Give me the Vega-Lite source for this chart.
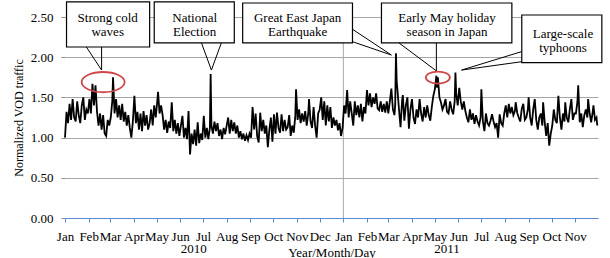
{
  "$schema": "https://vega.github.io/schema/vega-lite/v6.json",
  "width": 533,
  "height": 201,
  "autosize": "none",
  "padding": {"left": 65, "top": 17, "right": 12, "bottom": 40},
  "background": "white",
  "config": {"view": {"stroke": null}, "font": "Liberation Serif"},
  "datasets": {
    "vod": [
      {"d":"2010-01-01","v":1.00},{"d":"2010-01-03","v":1.32},{"d":"2010-01-05","v":1.18},{"d":"2010-01-07","v":1.42},{"d":"2010-01-09","v":1.22},{"d":"2010-01-11","v":1.48},{"d":"2010-01-13","v":1.25},{"d":"2010-01-15","v":1.20},{"d":"2010-01-17","v":1.45},{"d":"2010-01-19","v":1.28},{"d":"2010-01-21","v":1.18},{"d":"2010-01-23","v":1.40},{"d":"2010-01-25","v":1.50},{"d":"2010-01-27","v":1.22},{"d":"2010-01-29","v":1.35},{"d":"2010-01-31","v":1.30},
      {"d":"2010-02-02","v":1.48},{"d":"2010-02-04","v":1.30},{"d":"2010-02-06","v":1.67},{"d":"2010-02-08","v":1.40},{"d":"2010-02-10","v":1.65},{"d":"2010-02-12","v":1.32},{"d":"2010-02-14","v":1.15},{"d":"2010-02-16","v":1.30},{"d":"2010-02-18","v":1.10},{"d":"2010-02-20","v":1.28},{"d":"2010-02-22","v":1.05},{"d":"2010-02-24","v":1.02},{"d":"2010-02-26","v":1.22},{"d":"2010-02-28","v":1.15},
      {"d":"2010-03-02","v":1.25},{"d":"2010-03-04","v":1.45},{"d":"2010-03-05","v":1.75},{"d":"2010-03-07","v":1.30},{"d":"2010-03-09","v":1.48},{"d":"2010-03-11","v":1.25},{"d":"2010-03-13","v":1.40},{"d":"2010-03-15","v":1.22},{"d":"2010-03-17","v":1.42},{"d":"2010-03-19","v":1.20},{"d":"2010-03-21","v":1.32},{"d":"2010-03-23","v":1.15},{"d":"2010-03-25","v":1.28},{"d":"2010-03-27","v":1.12},{"d":"2010-03-29","v":1.00},{"d":"2010-03-31","v":1.20},
      {"d":"2010-04-02","v":1.52},{"d":"2010-04-04","v":1.18},{"d":"2010-04-06","v":1.32},{"d":"2010-04-08","v":1.10},{"d":"2010-04-10","v":1.30},{"d":"2010-04-12","v":1.08},{"d":"2010-04-14","v":1.33},{"d":"2010-04-16","v":1.15},{"d":"2010-04-18","v":1.28},{"d":"2010-04-20","v":1.10},{"d":"2010-04-22","v":1.18},{"d":"2010-04-24","v":1.35},{"d":"2010-04-26","v":1.15},{"d":"2010-04-28","v":1.40},{"d":"2010-04-30","v":1.25},
      {"d":"2010-05-02","v":1.45},{"d":"2010-05-03","v":1.57},{"d":"2010-05-05","v":1.30},{"d":"2010-05-07","v":1.40},{"d":"2010-05-09","v":1.28},{"d":"2010-05-11","v":1.10},{"d":"2010-05-13","v":1.22},{"d":"2010-05-15","v":1.06},{"d":"2010-05-17","v":1.20},{"d":"2010-05-19","v":1.12},{"d":"2010-05-21","v":1.44},{"d":"2010-05-23","v":1.08},{"d":"2010-05-25","v":1.22},{"d":"2010-05-27","v":1.05},{"d":"2010-05-29","v":1.18},{"d":"2010-05-31","v":1.02},
      {"d":"2010-06-02","v":1.15},{"d":"2010-06-04","v":1.27},{"d":"2010-06-06","v":1.00},{"d":"2010-06-08","v":1.12},{"d":"2010-06-10","v":0.98},{"d":"2010-06-12","v":1.33},{"d":"2010-06-14","v":0.79},{"d":"2010-06-16","v":1.05},{"d":"2010-06-18","v":0.92},{"d":"2010-06-20","v":1.10},{"d":"2010-06-22","v":0.90},{"d":"2010-06-24","v":1.19},{"d":"2010-06-26","v":0.93},{"d":"2010-06-28","v":1.05},{"d":"2010-06-30","v":0.97},
      {"d":"2010-07-02","v":1.27},{"d":"2010-07-04","v":1.00},{"d":"2010-07-06","v":1.12},{"d":"2010-07-08","v":0.98},{"d":"2010-07-10","v":1.12},{"d":"2010-07-11","v":1.79},{"d":"2010-07-12","v":1.15},{"d":"2010-07-14","v":1.05},{"d":"2010-07-16","v":1.20},{"d":"2010-07-18","v":1.08},{"d":"2010-07-20","v":1.18},{"d":"2010-07-22","v":1.02},{"d":"2010-07-24","v":1.10},{"d":"2010-07-26","v":0.98},{"d":"2010-07-28","v":1.12},{"d":"2010-07-30","v":1.04},
      {"d":"2010-08-01","v":1.15},{"d":"2010-08-03","v":1.25},{"d":"2010-08-05","v":1.05},{"d":"2010-08-07","v":1.22},{"d":"2010-08-09","v":1.08},{"d":"2010-08-11","v":1.19},{"d":"2010-08-13","v":1.05},{"d":"2010-08-15","v":1.15},{"d":"2010-08-17","v":1.00},{"d":"2010-08-19","v":1.08},{"d":"2010-08-21","v":0.98},{"d":"2010-08-23","v":1.05},{"d":"2010-08-25","v":0.96},{"d":"2010-08-27","v":1.03},{"d":"2010-08-29","v":0.97},{"d":"2010-08-31","v":1.05},
      {"d":"2010-09-02","v":1.00},{"d":"2010-09-04","v":1.38},{"d":"2010-09-06","v":1.10},{"d":"2010-09-08","v":1.30},{"d":"2010-09-10","v":1.02},{"d":"2010-09-12","v":0.94},{"d":"2010-09-14","v":1.31},{"d":"2010-09-16","v":1.08},{"d":"2010-09-18","v":1.22},{"d":"2010-09-20","v":1.05},{"d":"2010-09-22","v":1.15},{"d":"2010-09-24","v":0.88},{"d":"2010-09-26","v":1.10},{"d":"2010-09-28","v":1.25},{"d":"2010-09-30","v":0.95},
      {"d":"2010-10-02","v":1.29},{"d":"2010-10-04","v":1.05},{"d":"2010-10-06","v":1.31},{"d":"2010-10-08","v":1.12},{"d":"2010-10-10","v":1.06},{"d":"2010-10-12","v":1.29},{"d":"2010-10-14","v":1.08},{"d":"2010-10-16","v":1.22},{"d":"2010-10-18","v":1.10},{"d":"2010-10-20","v":1.13},{"d":"2010-10-22","v":1.28},{"d":"2010-10-24","v":1.02},{"d":"2010-10-26","v":1.15},{"d":"2010-10-28","v":1.06},{"d":"2010-10-30","v":1.27},{"d":"2010-10-31","v":1.60},
      {"d":"2010-11-02","v":1.22},{"d":"2010-11-04","v":1.35},{"d":"2010-11-06","v":1.18},{"d":"2010-11-08","v":1.30},{"d":"2010-11-10","v":1.20},{"d":"2010-11-12","v":1.33},{"d":"2010-11-14","v":1.15},{"d":"2010-11-16","v":1.30},{"d":"2010-11-17","v":1.48},{"d":"2010-11-19","v":1.20},{"d":"2010-11-21","v":1.12},{"d":"2010-11-23","v":1.38},{"d":"2010-11-25","v":1.15},{"d":"2010-11-27","v":1.00},{"d":"2010-11-29","v":1.30},
      {"d":"2010-12-01","v":1.35},{"d":"2010-12-03","v":1.50},{"d":"2010-12-05","v":1.22},{"d":"2010-12-07","v":1.45},{"d":"2010-12-09","v":1.15},{"d":"2010-12-11","v":1.40},{"d":"2010-12-13","v":1.20},{"d":"2010-12-15","v":1.38},{"d":"2010-12-17","v":1.12},{"d":"2010-12-19","v":1.25},{"d":"2010-12-21","v":1.15},{"d":"2010-12-23","v":1.22},{"d":"2010-12-25","v":1.09},{"d":"2010-12-27","v":1.18},{"d":"2010-12-29","v":1.02},{"d":"2010-12-31","v":1.12},
      {"d":"2011-01-02","v":1.40},{"d":"2011-01-04","v":1.30},{"d":"2011-01-06","v":1.59},{"d":"2011-01-08","v":1.25},{"d":"2011-01-10","v":1.45},{"d":"2011-01-12","v":1.30},{"d":"2011-01-14","v":1.15},{"d":"2011-01-16","v":1.45},{"d":"2011-01-18","v":1.28},{"d":"2011-01-20","v":1.40},{"d":"2011-01-22","v":1.25},{"d":"2011-01-24","v":1.42},{"d":"2011-01-26","v":1.20},{"d":"2011-01-28","v":1.38},{"d":"2011-01-30","v":1.30},
      {"d":"2011-02-01","v":1.59},{"d":"2011-02-03","v":1.40},{"d":"2011-02-05","v":1.55},{"d":"2011-02-07","v":1.38},{"d":"2011-02-09","v":1.50},{"d":"2011-02-11","v":1.42},{"d":"2011-02-13","v":1.55},{"d":"2011-02-15","v":1.36},{"d":"2011-02-17","v":1.34},{"d":"2011-02-19","v":1.45},{"d":"2011-02-21","v":1.32},{"d":"2011-02-23","v":1.42},{"d":"2011-02-25","v":1.31},{"d":"2011-02-27","v":1.45},
      {"d":"2011-03-01","v":1.30},{"d":"2011-03-03","v":1.45},{"d":"2011-03-05","v":1.61},{"d":"2011-03-07","v":1.35},{"d":"2011-03-09","v":1.28},{"d":"2011-03-10","v":1.40},{"d":"2011-03-11","v":2.05},{"d":"2011-03-12","v":1.70},{"d":"2011-03-13","v":1.59},{"d":"2011-03-15","v":1.35},{"d":"2011-03-17","v":1.13},{"d":"2011-03-19","v":1.45},{"d":"2011-03-20","v":1.53},{"d":"2011-03-22","v":1.21},{"d":"2011-03-24","v":1.40},{"d":"2011-03-26","v":1.50},{"d":"2011-03-28","v":1.11},{"d":"2011-03-30","v":1.35},
      {"d":"2011-04-01","v":1.48},{"d":"2011-04-03","v":1.25},{"d":"2011-04-05","v":1.17},{"d":"2011-04-07","v":1.35},{"d":"2011-04-09","v":1.25},{"d":"2011-04-11","v":1.48},{"d":"2011-04-13","v":1.30},{"d":"2011-04-15","v":1.20},{"d":"2011-04-17","v":1.38},{"d":"2011-04-19","v":1.25},{"d":"2011-04-21","v":1.40},{"d":"2011-04-23","v":1.28},{"d":"2011-04-25","v":1.21},{"d":"2011-04-27","v":1.38},{"d":"2011-04-29","v":1.52},
      {"d":"2011-05-01","v":1.60},{"d":"2011-05-03","v":1.77},{"d":"2011-05-04","v":1.62},{"d":"2011-05-05","v":1.75},{"d":"2011-05-07","v":1.50},{"d":"2011-05-09","v":1.44},{"d":"2011-05-11","v":1.35},{"d":"2011-05-13","v":1.40},{"d":"2011-05-15","v":1.48},{"d":"2011-05-17","v":1.32},{"d":"2011-05-19","v":1.30},{"d":"2011-05-21","v":1.45},{"d":"2011-05-23","v":1.35},{"d":"2011-05-25","v":1.29},{"d":"2011-05-27","v":1.45},{"d":"2011-05-28","v":1.81},{"d":"2011-05-29","v":1.55},{"d":"2011-05-31","v":1.40},
      {"d":"2011-06-02","v":1.62},{"d":"2011-06-04","v":1.45},{"d":"2011-06-06","v":1.35},{"d":"2011-06-08","v":1.45},{"d":"2011-06-10","v":1.33},{"d":"2011-06-12","v":1.25},{"d":"2011-06-14","v":1.19},{"d":"2011-06-16","v":1.35},{"d":"2011-06-18","v":1.22},{"d":"2011-06-20","v":1.30},{"d":"2011-06-22","v":1.17},{"d":"2011-06-24","v":1.28},{"d":"2011-06-26","v":1.20},{"d":"2011-06-28","v":1.15},{"d":"2011-06-30","v":1.25},
      {"d":"2011-07-01","v":1.60},{"d":"2011-07-03","v":1.20},{"d":"2011-07-05","v":1.08},{"d":"2011-07-07","v":1.30},{"d":"2011-07-09","v":1.18},{"d":"2011-07-11","v":1.15},{"d":"2011-07-13","v":1.21},{"d":"2011-07-15","v":1.29},{"d":"2011-07-17","v":1.20},{"d":"2011-07-19","v":1.13},{"d":"2011-07-21","v":1.18},{"d":"2011-07-23","v":1.00},{"d":"2011-07-25","v":1.29},{"d":"2011-07-27","v":1.18},{"d":"2011-07-29","v":1.15},{"d":"2011-07-31","v":1.30},
      {"d":"2011-08-02","v":1.40},{"d":"2011-08-04","v":1.25},{"d":"2011-08-06","v":1.42},{"d":"2011-08-08","v":1.30},{"d":"2011-08-10","v":1.38},{"d":"2011-08-12","v":1.28},{"d":"2011-08-14","v":1.33},{"d":"2011-08-15","v":1.44},{"d":"2011-08-17","v":1.31},{"d":"2011-08-19","v":1.25},{"d":"2011-08-21","v":1.20},{"d":"2011-08-23","v":1.36},{"d":"2011-08-25","v":1.42},{"d":"2011-08-27","v":1.22},{"d":"2011-08-29","v":1.25},{"d":"2011-08-31","v":1.35},
      {"d":"2011-09-01","v":1.50},{"d":"2011-09-03","v":1.25},{"d":"2011-09-05","v":1.15},{"d":"2011-09-07","v":1.35},{"d":"2011-09-09","v":1.48},{"d":"2011-09-11","v":1.22},{"d":"2011-09-13","v":1.10},{"d":"2011-09-15","v":1.25},{"d":"2011-09-17","v":1.30},{"d":"2011-09-19","v":1.15},{"d":"2011-09-20","v":1.44},{"d":"2011-09-22","v":1.20},{"d":"2011-09-24","v":1.02},{"d":"2011-09-26","v":1.18},{"d":"2011-09-28","v":0.90},{"d":"2011-09-30","v":1.05},
      {"d":"2011-10-02","v":1.15},{"d":"2011-10-04","v":1.35},{"d":"2011-10-06","v":1.22},{"d":"2011-10-08","v":1.18},{"d":"2011-10-10","v":1.52},{"d":"2011-10-12","v":1.25},{"d":"2011-10-14","v":1.10},{"d":"2011-10-16","v":1.30},{"d":"2011-10-18","v":1.20},{"d":"2011-10-19","v":1.44},{"d":"2011-10-21","v":1.25},{"d":"2011-10-23","v":1.19},{"d":"2011-10-25","v":1.35},{"d":"2011-10-27","v":1.48},{"d":"2011-10-29","v":1.22},{"d":"2011-10-31","v":1.30},
      {"d":"2011-11-02","v":1.30},{"d":"2011-11-04","v":1.45},{"d":"2011-11-05","v":1.65},{"d":"2011-11-07","v":1.19},{"d":"2011-11-09","v":1.30},{"d":"2011-11-11","v":1.13},{"d":"2011-11-13","v":1.28},{"d":"2011-11-15","v":1.35},{"d":"2011-11-17","v":1.25},{"d":"2011-11-18","v":1.48},{"d":"2011-11-20","v":1.30},{"d":"2011-11-22","v":1.19},{"d":"2011-11-24","v":1.32},{"d":"2011-11-25","v":1.40},{"d":"2011-11-27","v":1.22},{"d":"2011-11-29","v":1.25},{"d":"2011-11-30","v":1.15}
    ],
    "jan": [{"d":"2011-01-01","v":0,"v2":2.5}],
    "boxes": [
      {"d":"2010-01-03","d2":"2010-04-22","v":2.687,"v2":2.127},
      {"d":"2010-04-28","d2":"2010-08-11","v":2.687,"v2":2.177},
      {"d":"2010-08-22","d2":"2011-01-13","v":2.674,"v2":2.177},
      {"d":"2011-02-20","d2":"2011-08-10","v":2.674,"v2":2.177},
      {"d":"2011-08-23","d2":"2011-12-06","v":2.525,"v2":1.932}
    ],
    "labels": [
      {"t":"Strong cold\nwaves","d":"2010-02-26","v":2.49},
      {"t":"National\nElection","d":"2010-06-20","v":2.49},
      {"t":"Great East Japan\nEarthquake","d":"2010-11-02","v":2.49},
      {"t":"Early May holiday\nseason in Japan","d":"2011-05-17","v":2.49},
      {"t":"Large-scale\ntyphoons","d":"2011-10-16","v":2.29}
    ],
    "years": [
      {"t":"2010","d":"2010-06-19","v":-0.44},
      {"t":"2011","d":"2011-05-17","v":-0.44}
    ],
    "ptr": [
      {"id":"a","o":1,"d":"2010-01-29","v":2.127},{"id":"a","o":2,"d":"2010-02-18","v":1.84},{"id":"a","o":3,"d":"2010-02-18","v":2.127},
      {"id":"b","o":1,"d":"2010-06-29","v":2.177},{"id":"b","o":2,"d":"2010-07-12","v":1.84},{"id":"b","o":3,"d":"2010-07-25","v":2.177},
      {"id":"c","o":1,"d":"2011-01-11","v":2.36},{"id":"c","o":2,"d":"2011-03-05","v":2.027},{"id":"c","o":3,"d":"2011-01-13","v":2.193},
      {"id":"e","o":1,"d":"2011-03-15","v":2.177},{"id":"e","o":2,"d":"2011-05-03","v":1.83},{"id":"e","o":3,"d":"2011-05-03","v":2.177},
      {"id":"f","o":1,"d":"2011-08-23","v":2.07},{"id":"f","o":2,"d":"2011-06-05","v":1.84},{"id":"f","o":3,"d":"2011-08-23","v":1.944}
    ],
    "rings": [
      {"name":"cold","d":"2010-02-20","v":1.69},
      {"name":"may","d":"2011-05-05","v":1.747}
    ]
  },
  "encoding": {
    "x": {
      "field": "d", "type": "temporal",
      "scale": {"type": "utc", "nice": false, "domain": [{"year": 2010, "month": 1, "date": 1, "utc": true}, {"year": 2011, "month": 11, "date": 30, "hours": 23, "utc": true}]},
      "axis": {
        "title": "Year/Month/Day", "titleFont": "Liberation Serif", "titleFontSize": 13, "titleFontWeight": "normal", "titleColor": "black",
        "titleY": 38, "titleBaseline": "alphabetic",
        "tickCount": "month",
        "labelExpr": "utcFormat(datum.value,'%b')",
        "labelFont": "Liberation Serif", "labelFontSize": 13, "labelColor": "black", "labelPadding": 8, "labelOverlap": false, "labelFlush": false, "labelBaseline": "top",
        "domainColor": "#5B8BD0", "domainWidth": 1.2, "tickColor": "#5B8BD0", "tickSize": 4, "grid": false, "zindex": 1
      }
    },
    "y": {
      "field": "v", "type": "quantitative",
      "scale": {"domain": [0, 2.5], "nice": false, "zero": false},
      "axis": {
        "title": "Normalized VOD traffic", "titleFont": "Liberation Serif", "titleFontSize": 12, "titleFontWeight": "normal", "titleColor": "black", "titlePadding": 5,
        "values": [0, 0.5, 1, 1.5, 2, 2.5], "format": ".2f",
        "labelFont": "Liberation Serif", "labelFontSize": 13, "labelColor": "black", "labelPadding": 8,
        "domain": false, "tickColor": "#888888", "tickSize": 4, "grid": true, "gridColor": "#A6A6A6", "gridWidth": 1
      }
    }
  },
  "layer": [
    {"data": {"name": "jan"}, "mark": {"type": "rule", "color": "#A6A6A6", "strokeWidth": 1}, "encoding": {"y2": {"field": "v2"}}},
    {"data": {"name": "vod"}, "mark": {"type": "line", "color": "black", "strokeWidth": 1.8, "strokeJoin": "miter"}, "encoding": {}},
    {"data": {"name": "ptr"}, "mark": {"type": "line", "color": "black", "strokeWidth": 1}, "encoding": {"detail": {"field": "id"}, "order": {"field": "o"}}},
    {"data": {"name": "boxes"}, "mark": {"type": "rect", "fill": "white", "stroke": "black", "strokeWidth": 1.2}, "encoding": {"x2": {"field": "d2"}, "y2": {"field": "v2"}}},
    {"data": {"name": "labels"}, "mark": {"type": "text", "font": "Liberation Serif", "fontSize": 13, "lineBreak": "\n", "lineHeight": 14.5, "align": "center", "baseline": "middle", "color": "black"}, "encoding": {"text": {"field": "t"}}},
    {"data": {"name": "years"}, "mark": {"type": "text", "font": "Liberation Serif", "fontSize": 13, "align": "center", "baseline": "alphabetic", "color": "black"}, "encoding": {"text": {"field": "t"}}},
    {"data": {"name": "rings"}, "transform": [{"filter": "datum.name == 'cold'"}], "mark": {"type": "point", "shape": "M-1,0A1,0.47,0,1,0,1,0A1,0.47,0,1,0,-1,0Z", "size": 1849, "filled": false, "stroke": "#D0474A", "strokeWidth": 1.8, "opacity": 1}, "encoding": {}},
    {"data": {"name": "rings"}, "transform": [{"filter": "datum.name == 'may'"}], "mark": {"type": "point", "shape": "M-1,0A1,0.5,0,1,0,1,0A1,0.5,0,1,0,-1,0Z", "size": 576, "filled": false, "stroke": "#D0474A", "strokeWidth": 1.8, "opacity": 1}, "encoding": {}}
  ]
}
